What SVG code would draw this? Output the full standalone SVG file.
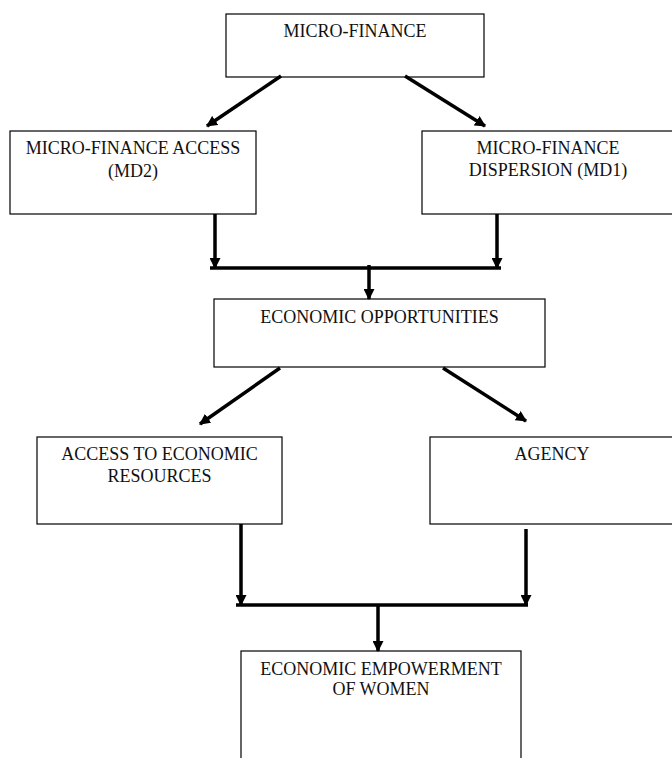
<svg xmlns="http://www.w3.org/2000/svg" width="672" height="758" viewBox="0 0 672 758">
<style>
.box{fill:#fff;stroke:#000;stroke-width:1.2}
.t{font-family:"Liberation Serif","Times New Roman",serif;font-size:18px;fill:#111;text-anchor:middle}
.c{fill:none;stroke:#000;stroke-width:3.5}
.a{marker-end:url(#ah)}
</style>
<defs>
<marker id="ah" viewBox="0 0 10 10" refX="9" refY="5" markerWidth="11" markerHeight="11" markerUnits="userSpaceOnUse" orient="auto">
<path d="M0,0 L10,5 L0,10 z" fill="#000"/>
</marker>
</defs>
<rect width="672" height="758" fill="#fff"/>
<g id="n1"><rect class="box" x="226" y="14" width="258" height="63"/><text class="t" x="355" y="37">MICRO-FINANCE</text></g>
<g id="n2"><rect class="box" x="10" y="131" width="246" height="83"/><text class="t" x="133" y="154">MICRO-FINANCE ACCESS</text><text class="t" x="133" y="177">(MD2)</text></g>
<g id="n3"><rect class="box" x="422" y="131" width="252" height="83"/><text class="t" x="548" y="154">MICRO-FINANCE</text><text class="t" x="548" y="176">DISPERSION (MD1)</text></g>
<g id="n4"><rect class="box" x="214" y="299" width="331" height="68"/><text class="t" x="379.5" y="323">ECONOMIC OPPORTUNITIES</text></g>
<g id="n5"><rect class="box" x="37" y="437" width="245" height="87"/><text class="t" x="159.5" y="460">ACCESS TO ECONOMIC</text><text class="t" x="159.5" y="482">RESOURCES</text></g>
<g id="n6"><rect class="box" x="430" y="437" width="244" height="87"/><text class="t" x="552" y="460">AGENCY</text></g>
<g id="n7"><rect class="box" x="241" y="651" width="280" height="120"/><text class="t" x="381" y="675">ECONOMIC EMPOWERMENT</text><text class="t" x="381" y="695">OF WOMEN</text></g>
<g id="connectors">
<line class="c a" x1="281" y1="76" x2="207" y2="126"/>
<line class="c a" x1="405" y1="76" x2="485" y2="126"/>
<line class="c a" x1="215" y1="214" x2="215" y2="268"/>
<line class="c a" x1="497" y1="214" x2="497" y2="268"/>
<line class="c" x1="210" y1="268" x2="501" y2="268"/>
<line class="c a" x1="369" y1="265" x2="369" y2="299"/>
<line class="c a" x1="280" y1="368" x2="200" y2="424"/>
<line class="c a" x1="443" y1="368" x2="526" y2="421"/>
<line class="c a" x1="241" y1="524" x2="241" y2="605"/>
<line class="c a" x1="526" y1="529" x2="526" y2="605"/>
<line class="c" x1="236" y1="605" x2="528" y2="605"/>
<line class="c a" x1="378" y1="605" x2="378" y2="651"/>
</g>
</svg>
